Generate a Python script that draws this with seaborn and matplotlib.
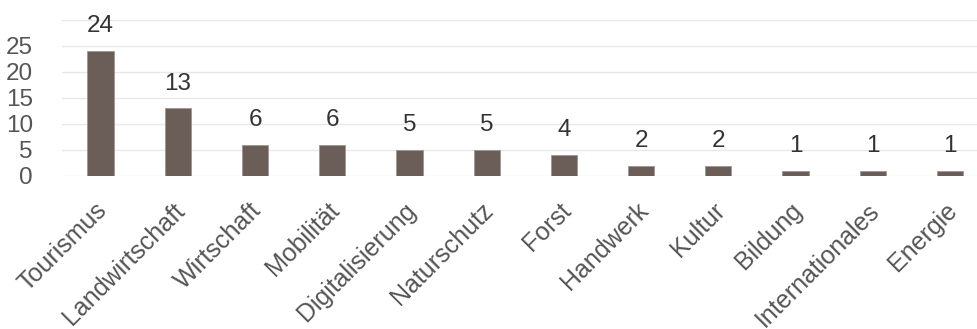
import numpy as np
import pandas as pd
import seaborn as sns
import matplotlib.pyplot as plt
import matplotlib.transforms as mtransforms

bereiche = ["Tourismus", "Landwirtschaft", "Wirtschaft", "Mobilität", "Digitalisierung",
            "Naturschutz", "Forst", "Handwerk", "Kultur", "Bildung", "Internationales", "Energie"]
anzahl = [24, 13, 6, 6, 5, 5, 4, 2, 2, 1, 1, 1]
y_ticks = [0, 5, 10, 15, 20, 25]

sns.set_style("white")
plt.rcParams["font.family"] = ["Liberation Sans", "DejaVu Sans"]

df = pd.DataFrame({"Bereich": bereiche, "Anzahl": anzahl})

fig = plt.figure(figsize=(9.77, 3.29), dpi=100)
ax = fig.add_axes([62 / 977, 1 - 176 / 329, 915 / 977, 156 / 329])

sns.barplot(x="Bereich", y="Anzahl", data=df, color="#6b5d57", width=0.34,
            saturation=1, edgecolor="#a09590", linewidth=0.6, ax=ax)

for i, v in enumerate(anzahl):
    ax.annotate(str(v), (i, v), xytext=(0, 10), textcoords="offset points",
                ha="center", va="bottom", fontsize=17.5, color="#333333")

ax.set_ylim(0, 30)
ax.set_xlim(-0.5, 11.35)
ax.set_yticks(y_ticks)
ax.yaxis.grid(True, color="#e8e8e8", linewidth=1)
ax.set_axisbelow(True)
ax.axhline(30, color="#e8e8e8", linewidth=1, zorder=0)
sns.despine(left=True, bottom=True)
ax.tick_params(axis="both", length=0, labelsize=17.5, labelcolor="#555555")
ax.tick_params(axis="x", labelsize=18, pad=16)
ax.tick_params(axis="y", pad=21)

# Beschriftungen leicht nach links versetzen
offset = mtransforms.ScaledTranslation(-4 / 72, 0, fig.dpi_scale_trans)
for lbl in ax.get_xticklabels():
    lbl.set_rotation(45)
    lbl.set_ha("right")
    lbl.set_rotation_mode("anchor")
    lbl.set_transform(lbl.get_transform() + offset)
ax.set_xlabel("")
ax.set_ylabel("")

fig.savefig("out.png", dpi=100)
